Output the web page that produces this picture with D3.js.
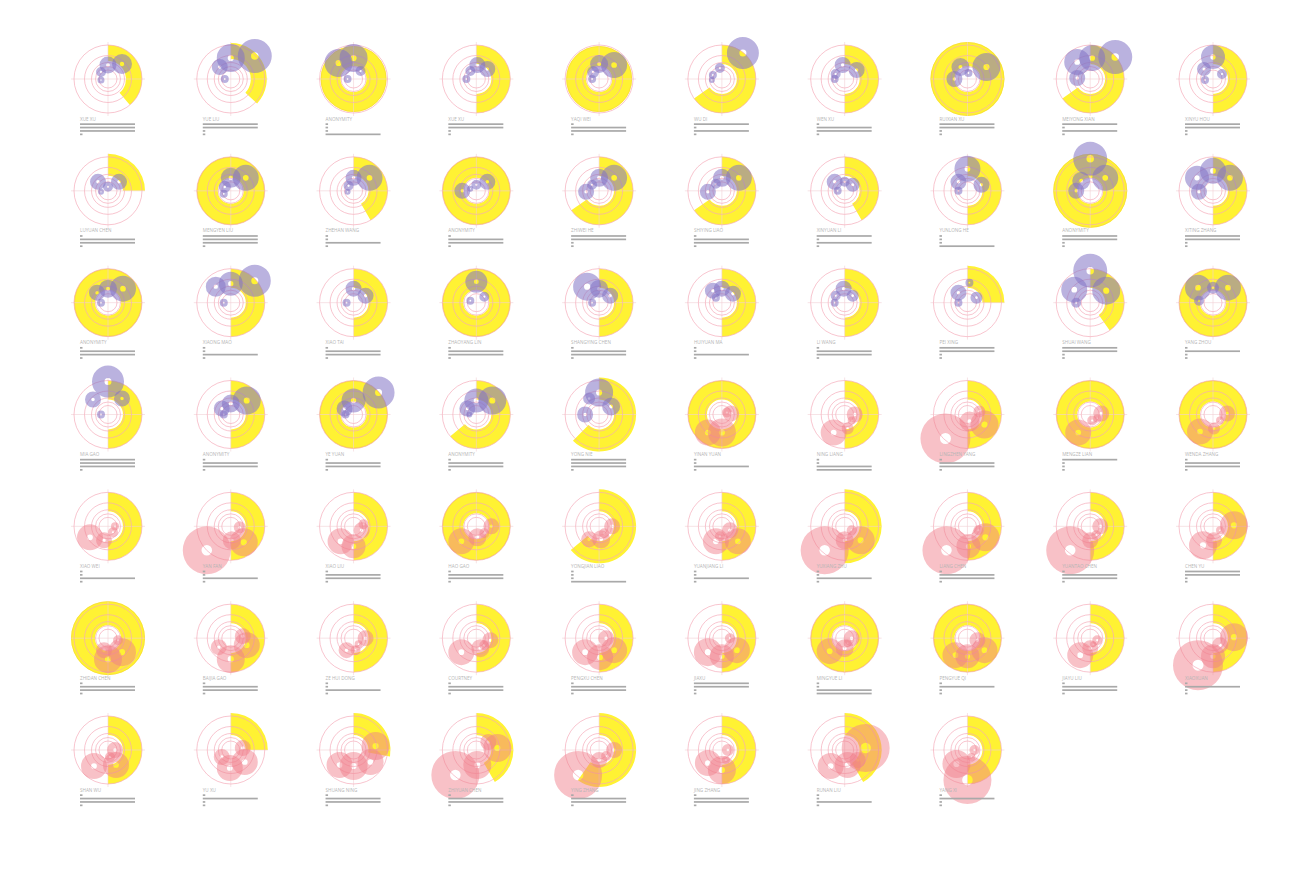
<!DOCTYPE html>
<html><head><meta charset="utf-8">
<script src="https://cdn.jsdelivr.net/npm/d3@7"></script>
<style>body{margin:0;background:#fff}svg{display:block}</style>
</head><body>
<script>
// ---------- data ----------
const names = [
 "XUE XU","YUE LIU","ANONYMITY","XUE XU","YAQI WEI","WU DI","WEN XU","RUIXIAN XU","MEIYONG XIAN","XINYU HOU",
 "LUYUAN CHEN","MENGYEN LIU","ZHEHAN WANG","ANONYMITY","ZHIWEI HE","SHIYING LIAO","XINYUAN LI","YUNLONG HE","ANONYMITY","XITING ZHANG",
 "ANONYMITY","XIAONG MAO","XIAO TAI","ZHAOYANG LIN","SHANGYING CHEN","HUIYUAN MA","LI WANG","PEI XING","SHUAI WANG","YANG ZHOU",
 "MIA GAO","ANONYMITY","YE YUAN","ANONYMITY","YONG NIE","YINAN YUAN","NING LIANG","LINGZHEN YANG","MENGZE LIAN","WENDA ZHANG",
 "XIAO WEI","YAN FAN","XIAO LIU","HAO GAO","YONGJIAN LIAO","YUANJIANG LI","YUXIANG ZHU","LIANG CHEN","YUANTAO CHEN","CHEN YU",
 "ZHIDAN CHEN","BAIJIA GAO","ZE HUI DONG","COURTNEY","PENGXU CHEN","JIAXU","MINGYUE LI","PENGYUE QI","JIAYU LIU","XIAOXUAN",
 "SHAN WU","YU XU","SHUANG NING","ZHIYUAN CHEN","YING ZHANG","JING ZHANG","RUNAN LIU","YANG XI"
];
// number of purple (first group) cells; the rest are pink
const groupSplit = 35;
// yellow arc: end angle in degrees (clockwise from 12 o'clock)
const arcAngle = [
 140,133,360,180,360,235,180,360,235,180,
 90,360,150,360,235,235,150,180,360,180,
 360,180,180,360,180,180,180,90,145,360,
 180,180,360,230,225,360,180,180,360,360,
 180,180,180,360,230,180,180,180,180,180,
 360,180,180,180,180,180,360,360,180,180,
 180,90,100,150,215,180,150,180
];
// yellow arc outer extent (ring units)
const arcOuter = [
 34,36,33,34,33,34,34,37,34,34,
 37,34,34,34,34,34,34,34,37,34,
 34,34,34,34,34,34,34,37,34,34,
 34,34,34,34,37,34,34,34,34,34,
 34,34,34,34,37,34,37,34,34,34,
 37,34,34,34,34,34,34,34,34,34,
 34,37,37,37,37,34,37,34
];
// yellow arc inner extent (ring units)
const arcInner = [
 18,20,13,15,13,15,15,13,15,15,
 15,13,15,13,15,15,15,15,13,15,
 13,15,15,13,15,15,15,15,15,13,
 15,15,13,15,15,15,15,15,13,13,
 15,15,15,13,15,15,15,15,15,15,
 13,15,15,15,15,15,13,13,15,15,
 15,15,15,15,15,15,15,15
];
// bubbles per person: [x, y, size] in ring units
const bubbles = [
 [[14,-15,10],[0,-14,8.5],[-7,-7,5],[-7,1,3.5]],
 [[24,-23,17],[0,-21,14],[-11,-12,8],[-6,0,4]],
 [[-15,-16,14],[0,-21,14],[7,-8,5],[-6,0,4]],
 [[1,-14,8],[11,-10,8],[-6,-8,5],[-10,0,4]],
 [[15,-14,13],[0,-15,9],[-6,-7,6],[-7,0,4]],
 [[21,-26,16],[-2,-11,5],[-9,-4,4],[-10,1,3]],
 [[-2,-14,8],[12,-9,8],[-9,-5,5],[-10,0,4]],
 [[19,-12,14],[-7,-12,9],[-13,0,8],[1,-6,4]],
 [[25,-22,17],[2,-21,13],[-13,-17,13],[-13,-1,8]],
 [[0,-22,12],[-9,-10,7],[9,-5,5],[-8,1,4]],

 [[-10,-9,8],[11,-9,8],[0,-4,5],[-7,1,3]],
 [[15,-13,13],[0,-13,10],[-6,-4,6],[-7,3,4]],
 [[16,-13,13],[0,-13,8],[-5,-5,5],[-6,1,3]],
 [[-14,0,8],[11,-9,8],[0,-6,5],[-6,-2,3]],
 [[15,-13,13],[0,-13,9],[-13,1,8],[-7,-6,5]],
 [[17,-13,13],[0,-13,9],[-14,1,8],[-6,-7,5]],
 [[-10,-9,8],[8,-6,7],[0,-9,5],[-7,0,4]],
 [[0,-22,13],[-9,-9,8],[14,-6,8],[-9,0,4]],
 [[0,-32,17],[15,-13,13],[-9,-10,9],[-14,0,8]],
 [[0,-20,13],[-16,-13,12],[17,-13,13],[-14,1,8]],

 [[15,-14,13],[0,-14,9],[-11,-10,8],[-7,0,4]],
 [[24,-22,16],[0,-19,12],[-15,-16,10],[-7,0,4]],
 [[0,-14,8],[12,-7,8],[-7,0,4]],
 [[0,-21,11],[8,-6,5],[-6,-2,4]],
 [[-12,-16,14],[0,-14,9],[11,-7,8],[-7,0,4]],
 [[-9,-12,8],[11,-9,8],[0,-14,8],[-6,-5,4]],
 [[-1,-14,8],[8,-7,6],[-9,-7,5],[-10,0,4]],
 [[-9,-10,8],[9,-5,6],[2,-20,4],[-9,0,4]],
 [[0,-32,17],[-16,-13,13],[16,-12,14],[-14,0,5]],
 [[-15,-15,13],[15,-15,13],[0,-15,6],[-14,-2,5]],

 [[0,-33,16],[-15,-15,8],[14,-16,8],[-7,0,4]],
 [[16,-14,14],[0,-11,9],[-9,-6,8],[-7,0,4]],
 [[25,-22,16],[0,-14,12],[-9,-6,8],[-8,0,4]],
 [[16,-14,14],[0,-14,12],[-9,-6,8],[-7,0,3]],
 [[0,-22,14],[12,-8,9],[-10,-16,6],[-14,0,8]],
 [[-14,18,13],[0,18,14],[9,-1,8],[5,-2,5]],
 [[-11,18,13],[10,0,8],[3,14,6],[7,6,4]],
 [[-22,24,25],[17,10,14],[2,7,10],[12,-3,6]],
 [[-12,18,13],[11,-1,8],[2,6,5],[7,4,4]],
 [[-13,17,13],[14,-1,8],[1,14,6],[7,6,4]],

 [[-18,11,13],[-4,14,8],[5,6,5],[7,0,4]],
 [[-24,24,24],[13,16,14],[1,14,9],[9,1,6]],
 [[-13,15,13],[0,20,12],[8,4,8],[10,-2,5]],
 [[-15,15,13],[1,11,9],[15,0,8],[8,7,5]],
 [[-10,13,8],[2,13,9],[13,0,8],[5,7,5]],
 [[-6,15,13],[16,15,13],[8,4,8],[-2,10,5]],
 [[-20,24,24],[16,14,14],[0,14,9],[7,4,5]],
 [[-21,24,24],[18,11,14],[1,20,12],[11,4,5]],
 [[-20,24,24],[10,0,8],[0,14,8],[6,9,5]],
 [[21,-1,14],[-10,19,14],[1,14,8],[7,4,4]],

 [[0,21,14],[14,14,14],[-4,12,8],[10,2,5]],
 [[0,21,14],[-12,9,8],[16,7,13],[12,-2,8]],
 [[-7,12,8],[12,0,8],[2,12,5],[5,6,4]],
 [[-15,14,13],[4,10,9],[14,2,8],[8,7,5]],
 [[-14,14,13],[1,19,13],[15,12,13],[7,0,8]],
 [[-14,14,14],[0,18,12],[15,12,13],[8,0,5]],
 [[-15,13,13],[0,10,9],[7,0,8],[3,5,4]],
 [[-12,17,13],[0,18,12],[17,12,13],[10,2,8]],
 [[-10,17,13],[0,10,8],[7,2,5],[3,6,3]],
 [[-15,27,25],[21,-1,14],[0,18,12],[7,7,8]],

 [[-14,16,13],[8,15,13],[7,0,8],[2,7,5]],
 [[-1,18,13],[14,12,13],[12,-2,8],[-9,7,8]],
 [[0,16,14],[-14,15,13],[17,12,13],[22,-4,14]],
 [[-21,25,24],[1,15,14],[21,-2,14],[12,-8,8]],
 [[-21,25,24],[0,10,8],[15,0,8],[7,6,5]],
 [[-14,13,13],[0,20,14],[6,0,6],[4,10,4]],
 [[21,-2,24],[-14,16,13],[3,15,13],[13,10,8]],
 [[0,30,24],[-11,14,14],[7,0,5],[4,7,4]]
];
// four bar values per person (0..1)
const bars = [
 [1,1,1,0],[1,1,0,0],[0,0,0,1],[1,1,0,0],[0,1,1,0],[1,0,1,0],[0,1,1,0],[1,1,0,0],[1,0,1,0],[1,1,0,0],
 [0,1,1,0],[1,1,1,0],[0,0,1,0],[0,1,1,0],[1,1,0,0],[0,1,1,0],[1,0,1,0],[0,0,0,1],[1,1,0,0],[1,1,0,0],
 [0,1,1,0],[0,0,1,0],[0,1,1,0],[0,1,1,0],[0,1,1,0],[0,0,1,0],[0,1,1,0],[1,1,0,0],[1,1,0,0],[0,1,0,0],
 [1,1,1,0],[0,1,1,0],[0,1,1,0],[0,1,1,0],[1,1,1,0],[0,0,1,0],[0,0,1,1],[0,1,1,0],[1,0,0,0],[0,1,1,0],
 [0,0,1,0],[0,0,1,0],[0,1,1,0],[0,1,1,0],[0,0,0,1],[0,0,1,0],[0,0,1,0],[0,1,1,0],[0,1,1,0],[1,1,0,0],
 [0,1,1,0],[0,1,1,0],[0,0,1,0],[0,1,1,0],[0,1,1,0],[1,1,0,0],[0,0,1,1],[0,1,0,0],[0,1,1,0],[0,1,0,0],
 [0,1,1,0],[0,1,0,0],[0,1,1,0],[0,1,1,0],[0,1,1,0],[0,1,1,0],[0,0,1,0],[0,1,0,0]
];
// concentric reference rings (ring units)
const rings = [34, 23.5, 16.5, 12.5, 9];

// ---------- drawing ----------
const W = 1311, H = 879, COLS = 10;
const svg = d3.select("body").append("svg").attr("width", W).attr("height", H);
svg.append("rect").attr("width", W).attr("height", H).attr("fill", "#fff");

const colScale = d3.scaleLinear().domain([0, COLS - 1]).range([108, 1213]);
const rowScale = d3.scaleLinear().domain([0, 6]).range([79, 750]);
const u = d3.scaleLinear().domain([-36, 36]).range([-36, 36]); // ring units -> px
const barScale = d3.scaleLinear().domain([0, 1]).range([2.5, 55]);

const yellow = "#fff233", ringCol = "#f5a9b8";
const purple = "#8273c4", pink = "#f07d89";

names.forEach((name, i) => {
  const cx = colScale(i % COLS), cy = rowScale(Math.floor(i / COLS));
  const g = svg.append("g").attr("transform", `translate(${cx},${cy})`);

  // yellow arc
  g.append("path")
    .attr("d", d3.arc()({innerRadius: u(arcInner[i]), outerRadius: u(arcOuter[i]),
      startAngle: 0, endAngle: arcAngle[i] * Math.PI / 180}))
    .attr("fill", yellow);
  if (arcAngle[i] >= 360) {
    g.append("circle").attr("r", u(arcOuter[i]) - 0.5).attr("fill", "none")
      .attr("stroke", "#f5d23a").attr("stroke-width", 0.8).attr("opacity", 0.7);
  }

  // crosshair
  const ext = u(37);
  g.append("line").attr("x1", -ext).attr("x2", ext).attr("stroke", "#f2d0d5").attr("stroke-width", 0.6);
  g.append("line").attr("y1", -ext).attr("y2", ext).attr("stroke", "#f2d0d5").attr("stroke-width", 0.6);

  // rings
  g.selectAll("circle.ring").data(rings).join("circle").attr("class", "ring")
    .attr("r", d => u(d)).attr("fill", "none").attr("stroke", ringCol)
    .attr("stroke-width", 0.8).attr("opacity", 0.85);

  // bubbles (donuts with transparent hole)
  const col = i < groupSplit ? purple : pink;
  g.selectAll("path.b").data(bubbles[i]).join("path").attr("class", "b")
    .attr("transform", d => `translate(${u(d[0])},${u(d[1])})`)
    .attr("d", d => d3.arc()({innerRadius: u(d[2]) * 0.22, outerRadius: u(d[2]), startAngle: 0, endAngle: 2 * Math.PI}))
    .attr("fill", col).attr("fill-opacity", i < groupSplit ? 0.55 : 0.48);

  // label
  g.append("text").attr("x", -28).attr("y", 41.5).text(name)
    .attr("font-family", "Open Sans, sans-serif").attr("font-size", 4.6)
    .attr("fill", "#b5b5b5");

  // bars
  g.selectAll("rect.bar").data(bars[i]).join("rect").attr("class", "bar")
    .attr("x", -28).attr("y", (d, k) => 44.3 + k * 3.4)
    .attr("width", d => barScale(d)).attr("height", 1.7).attr("fill", "#a9a9a9");
});
</script>
</body></html>
